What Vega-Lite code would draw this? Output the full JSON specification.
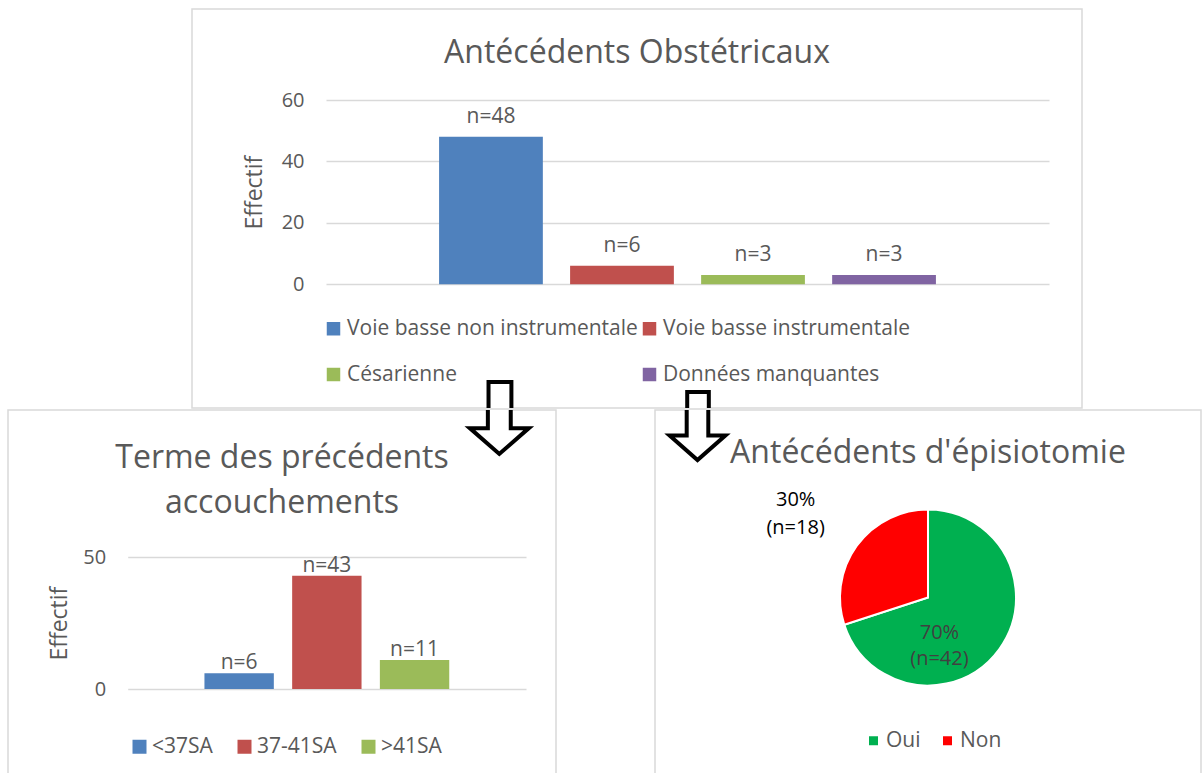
{
  "$schema": "https://vega.github.io/schema/vega-lite/v6.json",
  "background": "white",
  "padding": {"left": 7, "top": 8, "right": 0, "bottom": 0},
  "spacing": 0,
  "resolve": {"scale": {"x": "independent", "y": "independent", "color": "independent", "theta": "independent"}, "legend": {"color": "independent"}, "axis": {"x": "independent", "y": "independent"}},
  "config": {
    "font": "Open Sans",
    "view": {"stroke": "#d9d9d9", "strokeWidth": 1.5},
    "title": {"font": "Open Sans", "fontSize": 32, "fontWeight": "normal", "color": "#595959", "anchor": "middle", "frame": "group", "baseline": "alphabetic"},
    "axis": {"labelFont": "Open Sans", "labelFontSize": 20, "labelColor": "#595959", "titleFont": "Open Sans", "titleFontSize": 23, "titleFontWeight": "normal", "titleColor": "#595959", "domain": false, "ticks": false, "tickSize": 0, "gridColor": "#d9d9d9", "gridWidth": 1.5},
    "legend": {"labelFont": "Open Sans", "labelFontSize": 21, "labelColor": "#595959", "symbolType": "square", "symbolStrokeWidth": 0, "labelLimit": 400, "padding": 0, "title": null},
    "text": {"font": "Open Sans"}
  },
  "vconcat": [
    {
      "spacing": 10,
      "resolve": {"scale": {"x": "independent", "y": "independent", "color": "independent"}, "legend": {"color": "independent"}, "axis": {"x": "independent", "y": "independent"}},
      "hconcat": [
        {
          "width": 173,
          "height": 10,
          "view": {"stroke": null},
          "data": {"values": []},
          "mark": "point"
        },
        {
          "width": 890,
          "height": 399,
          "title": {"text": "Antécédents Obstétricaux", "offset": -61},
          "data": {"values": [
            {"voie": "Voie basse non instrumentale", "effectif": 48, "etiquette": "n=48"},
            {"voie": "Voie basse instrumentale", "effectif": 6, "etiquette": "n=6"},
            {"voie": "Césarienne", "effectif": 3, "etiquette": "n=3"},
            {"voie": "Données manquantes", "effectif": 3, "etiquette": "n=3"}
          ]},
          "encoding": {
            "x": {"field": "voie", "type": "nominal", "sort": null,
                  "scale": {"domain": ["Voie basse non instrumentale", "Voie basse instrumentale", "Césarienne", "Données manquantes"], "range": [134, 857], "paddingInner": 0.208, "paddingOuter": 0.863},
                  "axis": null},
            "y": {"field": "effectif", "type": "quantitative",
                  "scale": {"domain": [0, 60], "range": [275.3, 91], "nice": false, "zero": true},
                  "axis": {"title": "Effectif", "values": [0, 20, 40, 60], "grid": true, "offset": -134, "labelPadding": 22, "titlePadding": 15}}
          },
          "layer": [
            {
              "mark": {"type": "bar"},
              "encoding": {
                "color": {"field": "voie", "type": "nominal", "sort": null,
                          "scale": {"domain": ["Voie basse non instrumentale", "Voie basse instrumentale", "Césarienne", "Données manquantes"], "range": ["#4f81bd", "#c0504d", "#9bbb59", "#8064a2"]},
                          "legend": {"orient": "none", "legendX": 131, "legendY": 309, "direction": "horizontal", "columns": 2, "symbolSize": 182, "labelOffset": 3, "columnPadding": 1, "rowPadding": 24}}
              }
            },
            {
              "mark": {"type": "text", "baseline": "alphabetic", "align": "center", "dy": -14, "fontSize": 21, "color": "#595959"},
              "encoding": {"text": {"field": "etiquette", "type": "nominal"}}
            },
            {
              "transform": [{"filter": "datum.voie === 'Voie basse non instrumentale'"}],
              "mark": {"type": "point", "clip": true, "shape": "M -0.31 -1 L 0.31 -1 L 0.31 0.25 L 0.8 0.25 L 0 0.95 L -0.8 0.25 L -0.31 0.25 Z", "size": 5448, "filled": true, "fill": "#ffffff", "stroke": "#000000", "strokeWidth": 4, "strokeJoin": "miter", "opacity": 1, "xOffset": 9, "yOffset": 134.6},
              "encoding": {"y": {"datum": 0, "type": "quantitative"}}
            },
            {
              "transform": [{"filter": "datum.voie === 'Césarienne'"}],
              "mark": {"type": "point", "clip": true, "shape": "M -0.31 -1 L 0.31 -1 L 0.31 0.25 L 0.8 0.25 L 0 0.95 L -0.8 0.25 L -0.31 0.25 Z", "size": 4860, "filled": true, "fill": "#ffffff", "stroke": "#000000", "strokeWidth": 4, "strokeJoin": "miter", "opacity": 1, "xOffset": -55, "yOffset": 142.6},
              "encoding": {"y": {"datum": 0, "type": "quantitative"}}
            }
          ]
        }
      ]
    },
    {
      "spacing": 97,
      "resolve": {"scale": {"x": "independent", "y": "independent", "color": "independent", "theta": "independent"}, "legend": {"color": "independent"}, "axis": {"x": "independent", "y": "independent"}},
      "hconcat": [
        {
          "width": 548,
          "height": 375,
          "title": {"text": ["Terme des précédents", "accouchements"], "offset": -110, "lineHeight": 45},
          "data": {"values": [
            {"terme": "<37SA", "effectif": 6, "etiquette": "n=6"},
            {"terme": "37-41SA", "effectif": 43, "etiquette": "n=43"},
            {"terme": ">41SA", "effectif": 11, "etiquette": "n=11"}
          ]},
          "encoding": {
            "x": {"field": "terme", "type": "nominal", "sort": null,
                  "scale": {"domain": ["<37SA", "37-41SA", ">41SA"], "range": [119.7, 518], "paddingInner": 0.209, "paddingOuter": 0.875},
                  "axis": null},
            "y": {"field": "effectif", "type": "quantitative",
                  "scale": {"domain": [0, 50], "range": [279, 147.3], "nice": false, "zero": true},
                  "axis": {"title": "Effectif", "values": [0, 50], "grid": true, "offset": -119.7, "labelPadding": 22, "titlePadding": 11}}
          },
          "layer": [
            {
              "mark": {"type": "bar"},
              "encoding": {
                "color": {"field": "terme", "type": "nominal", "sort": null,
                          "scale": {"domain": ["<37SA", "37-41SA", ">41SA"], "range": ["#4f81bd", "#c0504d", "#9bbb59"]},
                          "legend": {"orient": "none", "legendX": 121, "legendY": 326, "direction": "horizontal", "symbolSize": 196, "labelOffset": 2, "columnPadding": 21}}
              }
            },
            {
              "mark": {"type": "text", "baseline": "alphabetic", "align": "center", "dy": -4, "fontSize": 21, "color": "#595959"},
              "encoding": {"text": {"field": "etiquette", "type": "nominal"}}
            },
            {
              "transform": [{"filter": "datum.terme === '>41SA'"}],
              "mark": {"type": "point", "clip": true, "shape": "M -0.31 -1 L 0.31 -1 L 0.31 0.25 L 0.8 0.25 L 0 0.95 L -0.8 0.25 L -0.31 0.25 Z", "size": 5448, "filled": true, "fill": "#ffffff", "stroke": "#000000", "strokeWidth": 4, "strokeJoin": "miter", "opacity": 1, "xOffset": 84.75, "yOffset": -270.1},
              "encoding": {"y": {"datum": 0, "type": "quantitative"}}
            }
          ]
        },
        {
          "width": 546,
          "height": 375,
          "view": {"stroke": "#d9d9d9", "strokeWidth": 1.5},
          "title": {"text": "Antécédents d'épisiotomie", "offset": -60},
          "data": {"values": [
            {"reponse": "Oui", "n": 42, "etiquette": "70%\n(n=42)"},
            {"reponse": "Non", "n": 18, "etiquette": "30%\n(n=18)"}
          ]},
          "layer": [
            {
              "mark": {"type": "arc", "outerRadius": 88, "stroke": "white", "strokeWidth": 2},
              "encoding": {
                "theta": {"field": "n", "type": "quantitative", "stack": true},
                "order": {"field": "n", "type": "quantitative", "sort": "descending"},
                "color": {"field": "reponse", "type": "nominal", "sort": null,
                          "scale": {"domain": ["Oui", "Non"], "range": ["#00b050", "#ff0000"]},
                          "legend": {"orient": "none", "legendX": 208, "legendY": 320, "direction": "horizontal", "symbolSize": 81, "labelOffset": 2, "columnPadding": 16}}
              }
            },
            {
              "mark": {"type": "text", "radius": 50, "dx": -29, "dy": 6, "lineBreak": "\n", "lineHeight": 26, "baseline": "middle", "align": "center", "fontSize": 20, "color": "#404040"},
              "encoding": {
                "theta": {"field": "n", "type": "quantitative", "stack": true},
                "order": {"field": "n", "type": "quantitative", "sort": "descending"},
                "text": {"condition": {"test": "datum.reponse === 'Oui'", "field": "etiquette"}, "value": ""}
              }
            },
            {
              "mark": {"type": "text", "radius": 150, "dx": -11, "dy": -9, "lineBreak": "\n", "lineHeight": 28, "baseline": "middle", "align": "center", "fontSize": 20, "color": "#000000"},
              "encoding": {
                "theta": {"field": "n", "type": "quantitative", "stack": true},
                "order": {"field": "n", "type": "quantitative", "sort": "descending"},
                "text": {"condition": {"test": "datum.reponse === 'Non'", "field": "etiquette"}, "value": ""}
              }
            },
            {
              "transform": [{"filter": "datum.reponse === 'Oui'"}],
              "mark": {"type": "point", "clip": true, "shape": "M -0.31 -1 L 0.31 -1 L 0.31 0.25 L 0.8 0.25 L 0 0.95 L -0.8 0.25 L -0.31 0.25 Z", "size": 4860, "filled": true, "fill": "#ffffff", "stroke": "#000000", "strokeWidth": 4, "strokeJoin": "miter", "opacity": 1, "xOffset": -230.5, "yOffset": -170.6},
              "encoding": {
                "x": {"field": "reponse", "type": "nominal", "axis": null},
                "y": {"field": "reponse", "type": "nominal", "axis": null}
              }
            }
          ]
        }
      ]
    }
  ]
}
